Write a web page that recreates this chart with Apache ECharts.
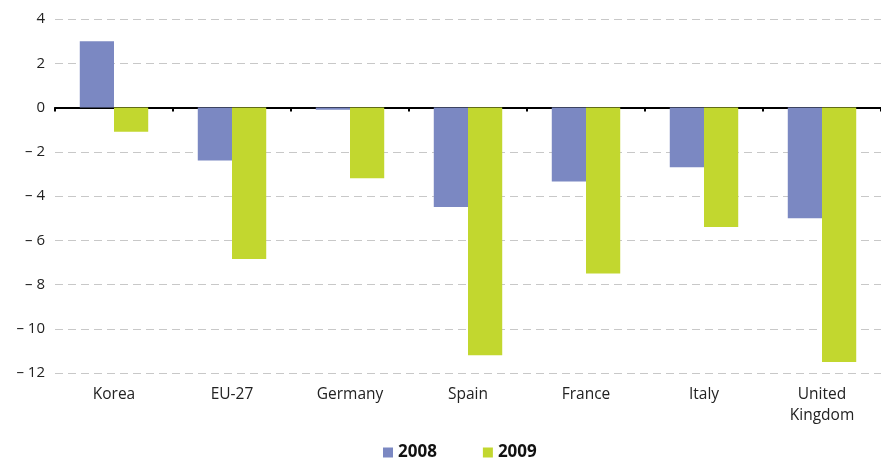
<!DOCTYPE html>
<html>
<head>
<meta charset="utf-8">
<script src="https://cdn.jsdelivr.net/npm/echarts@6/dist/echarts.min.js"></script>
<style>html,body{margin:0;padding:0;background:#fff}#c{width:881px;height:458px}</style>
</head>
<body>
<div id="c"></div>
<script>
var categories = ['Korea', 'EU-27', 'Germany', 'Spain', 'France', 'Italy', 'United\nKingdom'];
var seriesNames = ['2008', '2009'];
var values2008 = [3.0, -2.4, -0.1, -4.5, -3.35, -2.7, -5.0];
var values2009 = [-1.1, -6.85, -3.2, -11.2, -7.5, -5.4, -11.5];
var yTicks = { min: -12, max: 4, interval: 2 };

var font = '"Open Sans", "Noto Sans", sans-serif';
var chart = echarts.init(document.getElementById('c'));
chart.setOption({
  animation: false,
  backgroundColor: '#fff',
  color: ['#7B88C2', '#C2D72F'],
  grid: { left: 55, right: 0, top: 19, bottom: 85 },
  legend: {
    data: seriesNames,
    left: 378, top: 439,
    itemWidth: 10, itemHeight: 10, itemGap: 46,
    icon: 'rect',
    textStyle: { fontFamily: font, fontWeight: 'bold', fontSize: 17, color: '#111' }
  },
  xAxis: [{
    type: 'category', data: categories,
    axisLine: { onZero: true, lineStyle: { color: '#000', width: 2 } },
    axisTick: { show: true, length: 4, lineStyle: { color: '#000', width: 2 } },
    axisLabel: { show: false },
    splitLine: { show: false }
  }, {
    type: 'category', data: categories, position: 'bottom',
    axisLine: { show: false, onZero: false }, axisTick: { show: false },
    axisLabel: { margin: 11, fontFamily: font, fontSize: 15.5, color: '#222', lineHeight: 21 }
  }],
  yAxis: {
    type: 'value', min: yTicks.min, max: yTicks.max, interval: yTicks.interval,
    axisLine: { show: false }, axisTick: { show: false },
    axisLabel: {
      margin: 10, fontFamily: font, fontSize: 15, color: '#222',
      formatter: function (v) { return v < 0 ? '\u2013 ' + Math.abs(v) : String(v); }
    },
    splitLine: { lineStyle: { color: '#c8c8c8', type: [8, 5], width: 1 } }
  },
  series: [
    { name: seriesNames[0], type: 'bar', data: values2008, xAxisIndex: 0, barGap: '0%', barCategoryGap: '42%' },
    { name: seriesNames[1], type: 'bar', data: values2009, xAxisIndex: 0, barGap: '0%', barCategoryGap: '42%' }
  ]
});
</script>
</body>
</html>
